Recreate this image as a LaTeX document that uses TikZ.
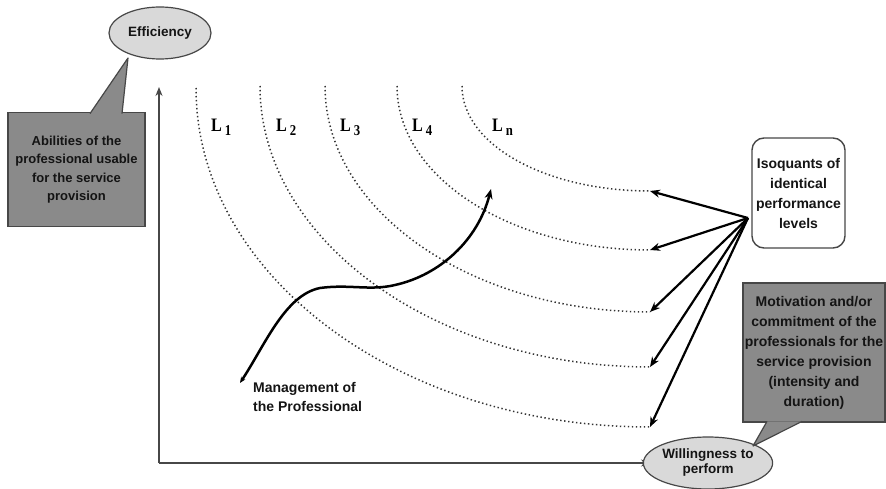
\documentclass[tikz,border=0pt]{standalone}
\usepackage{fontspec}
\setmainfont{Liberation Sans}
\newfontfamily\lfont{Liberation Serif}
\usetikzlibrary{arrows.meta,shapes.geometric}

\definecolor{edgegray}{gray}{0.28}
\definecolor{ovalfill}{gray}{0.85}
\definecolor{boxfill}{gray}{0.54}
\definecolor{inkgray}{gray}{0.08}

\newcommand{\isolabel}[1]{\scalebox{0.85}[1]{\fontsize{19}{19}\selectfont\lfont\bfseries L}\hspace{3pt}\raisebox{-4pt}{\scalebox{0.85}[1]{\fontsize{15}{15}\selectfont\lfont\bfseries #1}}}

\begin{document}
\begin{tikzpicture}[x=1pt,y=-1pt,
  oval/.style={ellipse, draw=edgegray, line width=1.2pt, fill=ovalfill,
    minimum width=102pt, minimum height=52pt, inner sep=0pt, align=center,
    text=inkgray, font=\fontsize{13.5}{15}\selectfont\bfseries},
  callbox/.style={rectangle, draw=edgegray, fill=boxfill, line width=1.2pt,
    inner sep=0pt, align=center, text=inkgray},
  calltip/.style={fill=boxfill},
  calledge/.style={draw=edgegray, line width=1.2pt, line join=round},
  isobox/.style={rectangle, rounded corners=12pt, draw=edgegray, line width=1.4pt,
    fill=white, inner sep=0pt, align=center, text=inkgray,
    minimum width=93pt, minimum height=110pt,
    font=\fontsize{14}{20}\selectfont\bfseries},
  isoline/.style={line width=1.5pt, dash pattern=on 1.4pt off 2.6pt, black!80},
  axis/.style={line width=1.4pt, edgegray, -{Stealth[length=9pt,width=7pt]}},
  levelarrow/.style={line width=2.2pt, black, -{Stealth[length=10pt,width=8pt]}},
  pathcurve/.style={line width=2.5pt, black, {Stealth[length=6pt,width=5pt]}-{Stealth[length=10pt,width=8pt]}},
  levellabel/.style={inner sep=0pt, anchor=west, text=black}
]
\useasboundingbox (0,0) rectangle (886,489);

% axes
\coordinate (origin) at (159,463);
\coordinate (ytop) at (159,87);
\coordinate (xend) at (650,463);
\draw[axis] (origin) -- (ytop);
\draw[axis] (origin) -- (xend);

% axis labels
\node[oval] (eff) at (160,33) {Efficiency};
\node[oval] (will) at (708,463) {Willingness to\\perform};

% callout: abilities
\node[callbox, minimum width=137pt, minimum height=114pt,
  font=\fontsize{13}{18.5}\selectfont\bfseries] (abil) at (76.5,169.5)
  {Abilities of the\\professional usable\\for the service\\provision};
\coordinate (abA) at (90,113.6);
\coordinate (abB) at (122,113.6);
\coordinate (abTip) at (128,58);
\fill[calltip] (abA) -- (abTip) -- (abB) -- cycle;
\draw[calledge] (abA) -- (abTip) -- (abB);

% callout: motivation
\node[callbox, minimum width=142pt, minimum height=139pt,
  font=\fontsize{14}{20}\selectfont\bfseries] (motiv) at (814,352.5)
  {Motivation and/or\\commitment of the\\professionals for the\\service provision\\(intensity and\\duration)};
\coordinate (moA) at (767,421.4);
\coordinate (moB) at (802,421.4);
\coordinate (moTip) at (753,446);
\fill[calltip] (moA) -- (moTip) -- (moB) -- cycle;
\draw[calledge] (moA) -- (moTip) -- (moB);

% isoquants (quarter ellipses)
\coordinate (s1) at (196,88);  \coordinate (e1) at (650,427);
\coordinate (s2) at (260,86);  \coordinate (e2) at (650,367);
\coordinate (s3) at (325,86);  \coordinate (e3) at (650,312);
\coordinate (s4) at (397,86);  \coordinate (e4) at (650,250);
\coordinate (sn) at (462,86);  \coordinate (en) at (650,191);
\draw[isoline] (s1) .. controls (196,275) and (399,427) .. (e1);
\draw[isoline] (s2) .. controls (260,240) and (435,367) .. (e2);
\draw[isoline] (s3) .. controls (325,210) and (470,312) .. (e3);
\draw[isoline] (s4) .. controls (397,177) and (510,250) .. (e4);
\draw[isoline] (sn) .. controls (462,145) and (546,191) .. (en);

% level labels
\node[levellabel] (l1) at (211,127) {\isolabel{1}};
\node[levellabel] (l2) at (276,127) {\isolabel{2}};
\node[levellabel] (l3) at (340,127) {\isolabel{3}};
\node[levellabel] (l4) at (412,127) {\isolabel{4}};
\node[levellabel] (ln) at (492,127) {\isolabel{n}};

% isoquant legend and its arrows
\node[isobox] (iso) at (798.5,193) {Isoquants of\\identical\\performance\\levels};
\coordinate (isoSrc) at (748,218);
\foreach \e in {en,e4,e3,e2,e1}
  \draw[levelarrow] (isoSrc) -- (\e);

% management path
\coordinate (mStart) at (240,383);
\coordinate (mEnd) at (491,189);
\draw[pathcurve] (mStart) .. controls (265,345) and (285,295) .. (320,288)
  .. controls (350,284) and (370,291) .. (395,285)
  .. controls (440,275) and (478,240) .. (mEnd);
\node[anchor=north west, align=left, inner sep=0pt, text=inkgray,
  font=\fontsize{14}{19}\selectfont\bfseries] (mgmt) at (253,382)
  {Management of\\the Professional};
\end{tikzpicture}
\end{document}
